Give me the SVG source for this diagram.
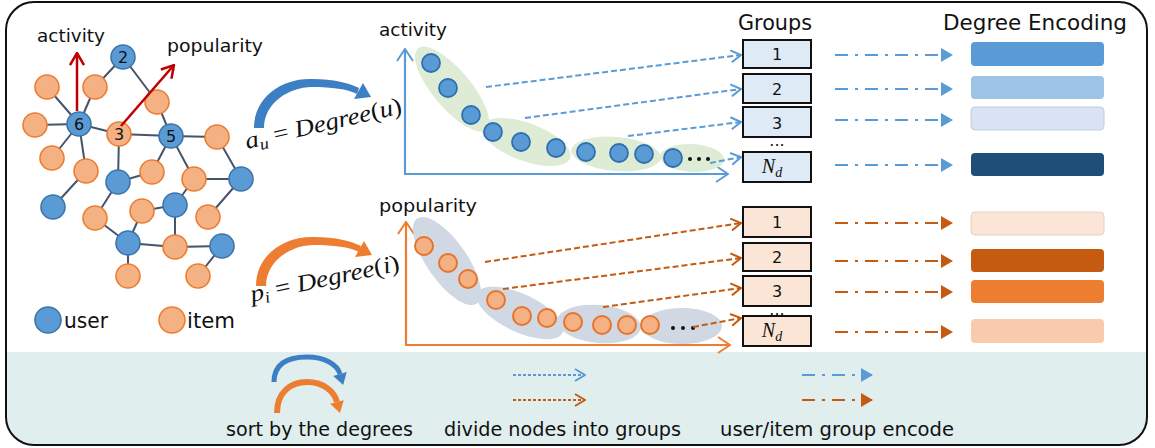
<svg xmlns="http://www.w3.org/2000/svg" width="1155" height="448" viewBox="0 0 1155 448">
<style>
.t{font-family:"DejaVu Sans","Open Sans",sans-serif;fill:#111}
.m{font-family:"Liberation Serif","DejaVu Serif",serif;font-style:italic;fill:#111}
.e{stroke:#44546a;stroke-width:2;fill:none}
.ub{fill:#5b9bd5;stroke:#3f74a8;stroke-width:1.6}
.io{fill:#f4b183;stroke:#ed7d31;stroke-width:1.6}
.cb{fill:#5b9bd5;stroke:#2e6fb0;stroke-width:1.8}
.co{fill:#f4b183;stroke:#e8732a;stroke-width:2}
.eg{fill:#deecd6}
.ey{fill:#cfd8e3}
.db{stroke:#5b9bd5;stroke-width:2;fill:none;stroke-dasharray:6 3}
.do{stroke:#c55a11;stroke-width:2;fill:none;stroke-dasharray:6 3}
.ddb{stroke:#5b9bd5;stroke-width:2;fill:none;stroke-dasharray:13 7 3 7}
.ddo{stroke:#c55a11;stroke-width:2;fill:none;stroke-dasharray:13 7 3 7}
.gb{fill:#deebf7;stroke:#111;stroke-width:2}
.go{fill:#fbe5d6;stroke:#111;stroke-width:2}
.lbl{font-family:"DejaVu Sans",sans-serif;font-size:16px;fill:#111;text-anchor:middle}
</style>
<defs>
<clipPath id="clip"><rect x="6" y="2" width="1141" height="443" rx="28"/></clipPath>
<marker id="chevB" viewBox="0 0 12 14" refX="11" refY="7" markerWidth="12" markerHeight="14" markerUnits="userSpaceOnUse" orient="auto"><path d="M1,1 L11,7 L1,13" fill="none" stroke="#5b9bd5" stroke-width="2"/></marker>
<marker id="chevO" viewBox="0 0 12 14" refX="11" refY="7" markerWidth="12" markerHeight="14" markerUnits="userSpaceOnUse" orient="auto"><path d="M1,1 L11,7 L1,13" fill="none" stroke="#c55a11" stroke-width="2"/></marker>
<marker id="chevR" viewBox="0 0 14 16" refX="13" refY="8" markerWidth="14" markerHeight="16" markerUnits="userSpaceOnUse" orient="auto"><path d="M1,1 L13,8 L1,15" fill="none" stroke="#c00000" stroke-width="2.5"/></marker>
<marker id="axB" viewBox="0 0 14 18" refX="13" refY="9" markerWidth="14" markerHeight="18" markerUnits="userSpaceOnUse" orient="auto"><path d="M1,1 L13,9 L1,17" fill="none" stroke="#5b9bd5" stroke-width="2"/></marker>
<marker id="axO" viewBox="0 0 14 18" refX="13" refY="9" markerWidth="14" markerHeight="18" markerUnits="userSpaceOnUse" orient="auto"><path d="M1,1 L13,9 L1,17" fill="none" stroke="#ed7d31" stroke-width="2"/></marker>
<marker id="triB" viewBox="0 0 12 14" refX="11" refY="7" markerWidth="12" markerHeight="14" markerUnits="userSpaceOnUse" orient="auto"><path d="M0,0 L12,7 L0,14 Z" fill="#5b9bd5"/></marker>
<marker id="triO" viewBox="0 0 12 14" refX="11" refY="7" markerWidth="12" markerHeight="14" markerUnits="userSpaceOnUse" orient="auto"><path d="M0,0 L12,7 L0,14 Z" fill="#c55a11"/></marker>
<path id="arc" d="M254,128 C254,97 282,78 312,79 C334,79 349,83 359,88 L357,94 C347,89 332,87 312,87 C289,87 264,103 264,128 Z"/>
<polygon id="arcHead" points="363,83 354,99 371,97"/>
</defs>

<!-- frame and legend background -->
<rect x="0" y="352" width="1155" height="100" fill="#e0eeee" clip-path="url(#clip)"/>
<rect x="6" y="2" width="1141" height="443" rx="28" fill="none" stroke="#111" stroke-width="2"/>

<!-- graph edges -->
<g id="graph-edges">
<path class="e" d="M123,57L95,87M123,57L157,102M157,102L171,136M47,87L79,124M95,87L79,124M35,125L79,124M79,124L119,134M79,124L52,158M79,124L86,171M86,171L53,207M119,134L171,136M119,134L118,182M171,136L217,137M171,136L152,172M171,136L194,179M217,137L241,179M194,179L241,179M194,179L175,205M241,179L208,217M118,182L152,172M118,182L95,218M95,218L128,243M142,211L175,205M142,211L128,243M175,205L175,247M128,243L175,247M175,247L222,246M128,243L128,276M222,246L198,276"/>
</g>
<g id="graph-nodes">
<g id="g-n2"><circle class="ub" cx="123" cy="57" r="12"/><text class="lbl" x="123" y="63">2</text></g>
<g id="g-n6"><circle class="ub" cx="79" cy="124" r="12"/><text class="lbl" x="79" y="130">6</text></g>
<g id="g-n5"><circle class="ub" cx="171" cy="136" r="12"/><text class="lbl" x="171" y="142">5</text></g>
<g id="g-u4"><circle class="ub" cx="118" cy="182" r="12"/></g>
<g id="g-u5"><circle class="ub" cx="241" cy="179" r="12"/></g>
<g id="g-u6"><circle class="ub" cx="53" cy="207" r="12"/></g>
<g id="g-u7"><circle class="ub" cx="175" cy="205" r="12"/></g>
<g id="g-u8"><circle class="ub" cx="128" cy="243" r="12"/></g>
<g id="g-u9"><circle class="ub" cx="222" cy="246" r="12"/></g>
<g id="g-i1"><circle class="io" cx="47" cy="87" r="12"/></g>
<g id="g-i2"><circle class="io" cx="95" cy="87" r="12"/></g>
<g id="g-i3"><circle class="io" cx="157" cy="102" r="12"/></g>
<g id="g-i4"><circle class="io" cx="35" cy="125" r="12"/></g>
<g id="g-n3"><circle class="io" cx="119" cy="134" r="12"/><text class="lbl" x="119" y="140">3</text></g>
<g id="g-i6"><circle class="io" cx="217" cy="137" r="12"/></g>
<g id="g-i7"><circle class="io" cx="52" cy="158" r="12"/></g>
<g id="g-i8"><circle class="io" cx="86" cy="171" r="12"/></g>
<g id="g-i9"><circle class="io" cx="152" cy="172" r="12"/></g>
<g id="g-i10"><circle class="io" cx="194" cy="179" r="12"/></g>
<g id="g-i11"><circle class="io" cx="95" cy="218" r="12"/></g>
<g id="g-i12"><circle class="io" cx="142" cy="211" r="12"/></g>
<g id="g-i13"><circle class="io" cx="208" cy="217" r="12"/></g>
<g id="g-i14"><circle class="io" cx="175" cy="247" r="12"/></g>
<g id="g-i15"><circle class="io" cx="128" cy="276" r="12"/></g>
<g id="g-i16"><circle class="io" cx="198" cy="276" r="12"/></g>
</g>
<g id="red-arrows">
<line x1="77" y1="111" x2="77" y2="53" stroke="#c00000" stroke-width="2.5" marker-end="url(#chevR)"/>
<line x1="121" y1="126" x2="174" y2="65" stroke="#c00000" stroke-width="2.5" marker-end="url(#chevR)"/>
<text class="t" x="37" y="42" font-size="18" textLength="68" lengthAdjust="spacingAndGlyphs">activity</text>
<text class="t" x="167" y="52" font-size="18" textLength="96" lengthAdjust="spacingAndGlyphs">popularity</text>
</g>
<g id="legend-nodes">
<circle class="ub" cx="48" cy="320" r="13"/>
<text class="t" x="64" y="328" font-size="22" textLength="44" lengthAdjust="spacingAndGlyphs">user</text>
<circle class="io" cx="172" cy="320" r="13"/>
<text class="t" x="187" y="328" font-size="22" textLength="48" lengthAdjust="spacingAndGlyphs">item</text>
</g>

<!-- sort arcs and formulas -->
<g id="sort-user">
<use href="#arc" fill="#3d7fc4"/>
<use href="#arcHead" fill="#3d7fc4"/>
<text class="m" x="247" y="149" font-size="24" transform="rotate(-13 247 149)" textLength="160" lengthAdjust="spacingAndGlyphs">a<tspan font-size="16" dy="4">u</tspan><tspan dy="-4" font-style="normal"> = </tspan>Degree<tspan font-style="normal">(</tspan>u<tspan font-style="normal">)</tspan></text>
</g>
<g id="sort-item">
<use href="#arc" fill="#ed7d31" transform="translate(2,158)"/>
<use href="#arcHead" fill="#ed7d31" transform="translate(1,158)"/>
<text class="m" x="252" y="302" font-size="24" transform="rotate(-12 252 302)" textLength="152" lengthAdjust="spacingAndGlyphs">p<tspan font-size="16" dy="4">i</tspan><tspan dy="-4" font-style="normal"> = </tspan>Degree<tspan font-style="normal">(</tspan>i<tspan font-style="normal">)</tspan></text>
</g>

<!-- top chart -->
<g id="chart-user">
<text class="t" x="379" y="36" font-size="18" textLength="68" lengthAdjust="spacingAndGlyphs">activity</text>
<line x1="405" y1="174" x2="405" y2="49" stroke="#5b9bd5" stroke-width="2.2" marker-end="url(#axB)"/>
<line x1="404" y1="174" x2="728" y2="174" stroke="#5b9bd5" stroke-width="2.2" marker-end="url(#axB)"/>
<ellipse class="eg" cx="452" cy="89" rx="53" ry="19" transform="rotate(50 452 89)"/>
<ellipse class="eg" cx="526" cy="142" rx="47" ry="19" transform="rotate(20 526 142)"/>
<ellipse class="eg" cx="616" cy="154" rx="45" ry="17" transform="rotate(5 616 154)"/>
<ellipse class="eg" cx="692" cy="158" rx="32" ry="14" transform="rotate(3 692 158)"/>
<g id="cu1"><circle class="cb" cx="431" cy="63" r="9"/></g>
<g id="cu2"><circle class="cb" cx="448" cy="88" r="9"/></g>
<g id="cu3"><circle class="cb" cx="471" cy="115" r="9"/></g>
<g id="cu4"><circle class="cb" cx="493" cy="132" r="9"/></g>
<g id="cu5"><circle class="cb" cx="521" cy="142" r="9"/></g>
<g id="cu6"><circle class="cb" cx="556" cy="148" r="9"/></g>
<g id="cu7"><circle class="cb" cx="586" cy="152" r="9"/></g>
<g id="cu8"><circle class="cb" cx="619" cy="153" r="9"/></g>
<g id="cu9"><circle class="cb" cx="644" cy="154" r="9"/></g>
<g id="cu10"><circle class="cb" cx="673" cy="158" r="9"/></g>
<circle cx="690" cy="159" r="2" fill="#111"/><circle cx="699" cy="159" r="2" fill="#111"/><circle cx="708" cy="159" r="2" fill="#111"/>
</g>

<!-- bottom chart -->
<g id="chart-item">
<text class="t" x="379" y="212" font-size="18" textLength="98" lengthAdjust="spacingAndGlyphs">popularity</text>
<line x1="406" y1="345" x2="406" y2="222" stroke="#ed7d31" stroke-width="2.2" marker-end="url(#axO)"/>
<line x1="405" y1="345" x2="730" y2="345" stroke="#ed7d31" stroke-width="2.2" marker-end="url(#axO)"/>
<ellipse class="ey" cx="447" cy="261" rx="52" ry="20" transform="rotate(55 447 261)"/>
<ellipse class="ey" cx="520" cy="313" rx="47" ry="19" transform="rotate(25 520 313)"/>
<ellipse class="ey" cx="599" cy="324" rx="42" ry="19" transform="rotate(5 599 324)"/>
<ellipse class="ey" cx="682" cy="326" rx="40" ry="18"/>
<g id="ci1"><circle class="co" cx="424" cy="246" r="9"/></g>
<g id="ci2"><circle class="co" cx="448" cy="263" r="9"/></g>
<g id="ci3"><circle class="co" cx="468" cy="279" r="9"/></g>
<g id="ci4"><circle class="co" cx="496" cy="300" r="9"/></g>
<g id="ci5"><circle class="co" cx="522" cy="316" r="9"/></g>
<g id="ci6"><circle class="co" cx="547" cy="318" r="9"/></g>
<g id="ci7"><circle class="co" cx="573" cy="322" r="9"/></g>
<g id="ci8"><circle class="co" cx="602" cy="325" r="9"/></g>
<g id="ci9"><circle class="co" cx="627" cy="325" r="9"/></g>
<g id="ci10"><circle class="co" cx="650" cy="325" r="9"/></g>
<circle cx="673" cy="328" r="2" fill="#111"/><circle cx="683" cy="328" r="2" fill="#111"/><circle cx="693" cy="328" r="2" fill="#111"/>
</g>

<!-- connectors -->
<g id="connectors">
<line class="db" x1="486" y1="87" x2="741" y2="55" marker-end="url(#chevB)"/>
<line class="db" x1="525" y1="118" x2="741" y2="89" marker-end="url(#chevB)"/>
<line class="db" x1="628" y1="136" x2="741" y2="122" marker-end="url(#chevB)"/>
<line class="db" x1="710" y1="163" x2="741" y2="157" marker-end="url(#chevB)"/>
<line class="do" x1="485" y1="262" x2="741" y2="223" marker-end="url(#chevO)"/>
<line class="do" x1="503" y1="289" x2="741" y2="258" marker-end="url(#chevO)"/>
<line class="do" x1="603" y1="307" x2="741" y2="288" marker-end="url(#chevO)"/>
<line class="do" x1="693" y1="327" x2="741" y2="318" marker-end="url(#chevO)"/>
<line class="ddb" x1="835" y1="55" x2="952" y2="55" marker-end="url(#triB)"/>
<line class="ddb" x1="835" y1="89" x2="952" y2="89" marker-end="url(#triB)"/>
<line class="ddb" x1="835" y1="120" x2="952" y2="120" marker-end="url(#triB)"/>
<line class="ddb" x1="835" y1="165" x2="952" y2="165" marker-end="url(#triB)"/>
<line class="ddo" x1="835" y1="223" x2="952" y2="223" marker-end="url(#triO)"/>
<line class="ddo" x1="835" y1="261" x2="952" y2="261" marker-end="url(#triO)"/>
<line class="ddo" x1="835" y1="292" x2="952" y2="292" marker-end="url(#triO)"/>
<line class="ddo" x1="835" y1="332" x2="952" y2="332" marker-end="url(#triO)"/>
</g>

<!-- groups -->
<text class="t" x="738" y="30" font-size="21" textLength="74" lengthAdjust="spacingAndGlyphs">Groups</text>
<text class="t" x="943" y="30" font-size="21" textLength="184" lengthAdjust="spacingAndGlyphs">Degree Encoding</text>
<g id="grp-u1"><rect class="gb" x="743" y="40" width="68" height="28"/><text class="lbl" x="777" y="60">1</text></g>
<g id="grp-u2"><rect class="gb" x="743" y="74" width="68" height="29"/><text class="lbl" x="777" y="95">2</text></g>
<g id="grp-u3"><rect class="gb" x="743" y="107" width="68" height="30"/><text class="lbl" x="777" y="129">3</text></g>
<text class="lbl" x="777" y="146" font-size="11">...</text>
<g id="grp-uN"><rect class="gb" x="743" y="152" width="68" height="30"/><text class="m" x="772" y="173" font-size="20" text-anchor="middle">N<tspan font-size="14" dy="4">d</tspan></text></g>
<g id="grp-i1"><rect class="go" x="743" y="207" width="68" height="30"/><text class="lbl" x="777" y="228">1</text></g>
<g id="grp-i2"><rect class="go" x="743" y="243" width="68" height="28"/><text class="lbl" x="777" y="263">2</text></g>
<g id="grp-i3"><rect class="go" x="743" y="276" width="68" height="30"/><text class="lbl" x="777" y="297">3</text></g>
<text class="lbl" x="777" y="315" font-size="11">...</text>
<g id="grp-iN"><rect class="go" x="743" y="316" width="68" height="30"/><text class="m" x="772" y="337" font-size="20" text-anchor="middle">N<tspan font-size="14" dy="4">d</tspan></text></g>

<!-- encodings -->
<g id="enc-u1"><rect x="971" y="42" width="133" height="24" rx="4" fill="#5b9bd5"/></g>
<g id="enc-u2"><rect x="971" y="76" width="133" height="23" rx="4" fill="#9dc3e6"/></g>
<g id="enc-u3"><rect x="971" y="107" width="133" height="23" rx="4" fill="#dae3f3" stroke="#c3ccdb"/></g>
<g id="enc-uN"><rect x="971" y="153" width="133" height="23" rx="4" fill="#1f4e79"/></g>
<g id="enc-i1"><rect x="971" y="212" width="133" height="23" rx="4" fill="#fbe5d6" stroke="#e2d2c6"/></g>
<g id="enc-i2"><rect x="971" y="249" width="133" height="23" rx="4" fill="#c55a11"/></g>
<g id="enc-i3"><rect x="971" y="280" width="133" height="23" rx="4" fill="#ed7d31"/></g>
<g id="enc-iN"><rect x="971" y="319" width="133" height="24" rx="4" fill="#f8cbad"/></g>

<!-- legend -->
<g id="legend">
<path d="M274,382 C274,362 290,357 307,357 C324,357 337,364 340,374" fill="none" stroke="#3d7fc4" stroke-width="5"/>
<polygon points="346.7,372 333.3,376 343.2,385" fill="#3d7fc4"/>
<path d="M277,413 C277,392 291,382 307,382 C323,382 334,391 337,402" fill="none" stroke="#ed7d31" stroke-width="6"/>
<polygon points="343.8,400.2 330.2,403.8 339.9,413" fill="#ed7d31"/>
<text class="t" x="226" y="436" font-size="19" textLength="187" lengthAdjust="spacingAndGlyphs">sort by the degrees</text>
<line x1="513" y1="375" x2="585" y2="375" stroke="#5b9bd5" stroke-width="2" stroke-dasharray="3 2" marker-end="url(#chevB)"/>
<line x1="513" y1="400" x2="585" y2="400" stroke="#c55a11" stroke-width="2" stroke-dasharray="3 2" marker-end="url(#chevO)"/>
<text class="t" x="444" y="436" font-size="19" textLength="237" lengthAdjust="spacingAndGlyphs">divide nodes into groups</text>
<line class="ddb" x1="802" y1="375" x2="872" y2="375" marker-end="url(#triB)"/>
<line class="ddo" x1="802" y1="400" x2="872" y2="400" marker-end="url(#triO)"/>
<text class="t" x="720" y="436" font-size="19" textLength="234" lengthAdjust="spacingAndGlyphs">user/item group encode</text>
</g>
</svg>
